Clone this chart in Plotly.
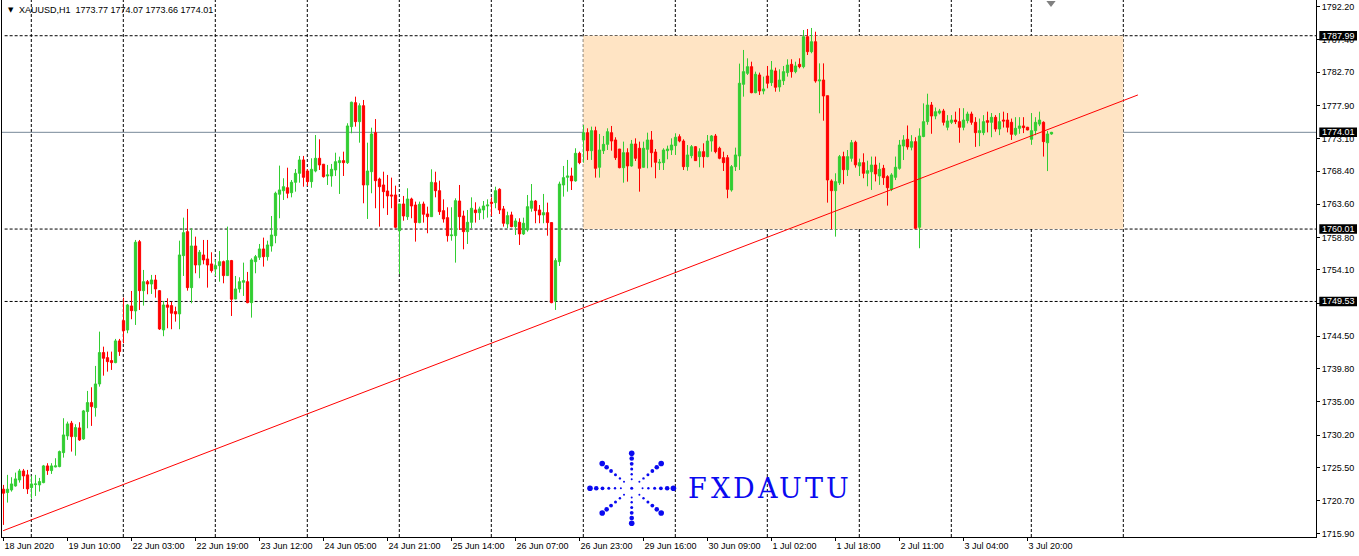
import math
import plotly.graph_objects as go

# ---------------- data ----------------
opens = [1722.36, 1721.87, 1722.25, 1722.83, 1723.70, 1725.00, 1724.43, 1722.59, 1723.03, 1722.98,
         1723.31, 1725.73, 1725.05, 1725.58, 1725.63, 1727.65, 1730.07, 1731.91, 1729.97, 1731.23,
         1729.64, 1733.59, 1734.89, 1734.16, 1737.59, 1742.13, 1741.40, 1740.97, 1740.68, 1743.82,
         1746.75, 1745.40, 1748.88, 1748.16, 1758.18, 1751.09, 1752.39, 1752.06, 1752.64, 1751.09,
         1745.41, 1749.02, 1748.93, 1748.06, 1747.73, 1756.16, 1759.63, 1751.53, 1757.56, 1754.81,
         1756.26, 1755.68, 1754.96, 1754.23, 1754.71, 1755.29, 1753.27, 1755.44, 1749.89, 1751.34,
         1752.31, 1752.39, 1749.36, 1755.29, 1755.93, 1757.13, 1756.01, 1757.56, 1759.05, 1765.05,
         1765.56, 1765.99, 1765.27, 1766.78, 1768.08, 1770.01, 1768.41, 1766.87, 1768.41, 1770.25,
         1769.39, 1767.69, 1767.69, 1768.56, 1769.62, 1769.91, 1769.62, 1774.83, 1778.30, 1775.55,
         1777.86, 1766.39, 1768.31, 1773.96, 1767.25, 1766.39, 1765.52, 1764.94, 1764.94, 1759.78,
         1763.64, 1761.80, 1764.36, 1763.49, 1760.94, 1763.64, 1762.19, 1761.80, 1766.72, 1765.56,
         1762.67, 1761.66, 1759.05, 1759.05, 1764.07, 1761.90, 1759.63, 1760.99, 1762.77, 1762.38,
         1762.77, 1763.35, 1763.88, 1763.83, 1765.76, 1762.92, 1760.75, 1762.05, 1760.36, 1760.99,
         1759.30, 1759.88, 1763.02, 1764.07, 1762.77, 1762.05, 1762.38, 1760.94, 1749.65, 1755.29,
         1766.39, 1767.50, 1767.69, 1766.98, 1770.97, 1772.90, 1773.96, 1771.35, 1774.25, 1768.95,
         1771.35, 1772.27, 1773.96, 1772.90, 1771.59, 1768.89, 1771.06, 1769.14, 1772.32, 1771.70,
         1768.95, 1771.55, 1772.90, 1771.16, 1769.57, 1769.62, 1771.35, 1771.45, 1772.08, 1773.38,
         1772.75, 1769.04, 1770.63, 1771.93, 1770.49, 1771.21, 1770.49, 1772.75, 1773.48, 1771.70,
         1770.34, 1770.34, 1765.66, 1769.04, 1770.59, 1780.96, 1782.55, 1783.51, 1779.75, 1782.31,
         1779.99, 1782.16, 1781.20, 1782.89, 1780.58, 1781.48, 1782.65, 1783.85, 1782.79, 1783.85,
         1783.51, 1787.85, 1785.68, 1787.12, 1781.44, 1781.58, 1779.31, 1766.97, 1765.56, 1766.72,
         1770.49, 1768.60, 1770.25, 1772.57, 1769.14, 1769.62, 1768.08, 1768.30, 1769.28, 1767.69,
         1768.80, 1767.59, 1765.76, 1767.50, 1768.80, 1772.03, 1773.00, 1771.85, 1772.66, 1760.27,
         1773.40, 1775.55, 1777.96, 1776.37, 1776.80, 1777.10, 1774.74, 1775.46, 1775.79, 1775.55,
         1774.74, 1775.70, 1776.66, 1775.46, 1773.96, 1773.96, 1775.70, 1775.46, 1776.18, 1774.49,
         1775.79, 1775.79, 1775.46, 1773.72, 1774.59, 1774.93, 1774.74, 1773.00, 1774.25, 1775.20,
         1775.46, 1772.50, 1773.77]

highs = [1722.98, 1724.43, 1724.09, 1724.76, 1725.29, 1725.29, 1725.15, 1724.28, 1724.43, 1723.99,
         1725.87, 1726.12, 1726.12, 1726.84, 1727.95, 1732.63, 1732.14, 1732.24, 1731.76, 1732.05,
         1733.83, 1736.58, 1737.11, 1740.20, 1745.16, 1742.99, 1742.27, 1742.27, 1744.11, 1744.11,
         1750.08, 1749.17, 1751.05, 1758.43, 1758.43, 1754.09, 1752.64, 1753.37, 1753.37, 1751.19,
         1749.60, 1749.99, 1749.50, 1748.78, 1758.33, 1761.66, 1762.92, 1760.12, 1758.91, 1756.98,
         1758.43, 1758.43, 1756.65, 1755.54, 1756.84, 1755.44, 1760.36, 1755.54, 1753.22, 1753.03,
         1755.15, 1753.80, 1755.78, 1756.26, 1757.85, 1758.77, 1758.33, 1761.90, 1765.42, 1769.19,
         1767.36, 1768.89, 1767.11, 1768.70, 1770.59, 1770.59, 1768.70, 1770.25, 1773.62, 1773.00,
         1769.43, 1769.29, 1769.43, 1771.06, 1770.49, 1771.21, 1775.32, 1778.45, 1779.17, 1778.21,
         1778.69, 1772.51, 1774.68, 1775.93, 1767.45, 1768.31, 1767.84, 1767.45, 1766.29, 1763.64,
         1764.80, 1765.91, 1764.55, 1763.98, 1763.98, 1763.98, 1763.25, 1768.66, 1768.31, 1767.01,
         1764.31, 1763.16, 1763.16, 1764.46, 1766.39, 1762.67, 1762.77, 1764.60, 1763.88, 1763.25,
         1764.07, 1764.31, 1764.60, 1766.14, 1765.91, 1763.35, 1762.52, 1762.52, 1761.57, 1761.57,
         1761.66, 1764.94, 1766.53, 1764.22, 1763.49, 1765.09, 1763.83, 1760.99, 1755.78, 1766.87,
         1769.14, 1770.01, 1768.89, 1771.70, 1771.21, 1775.07, 1774.59, 1774.83, 1774.83, 1773.77,
         1773.48, 1774.59, 1774.93, 1773.29, 1771.59, 1772.66, 1771.70, 1772.90, 1773.14, 1772.66,
         1772.66, 1773.96, 1774.20, 1771.59, 1770.15, 1771.70, 1772.08, 1773.14, 1773.87, 1773.72,
         1773.00, 1772.17, 1772.17, 1772.03, 1771.70, 1772.42, 1773.62, 1773.62, 1773.77, 1771.93,
         1771.21, 1770.73, 1769.28, 1771.79, 1783.95, 1785.93, 1784.72, 1784.23, 1782.79, 1782.65,
         1782.07, 1783.61, 1784.33, 1783.37, 1783.13, 1783.61, 1784.58, 1784.58, 1784.23, 1784.72,
         1788.82, 1788.96, 1789.11, 1788.57, 1783.99, 1783.99, 1779.31, 1767.21, 1768.08, 1770.73,
         1771.20, 1771.45, 1772.90, 1772.80, 1770.20, 1770.97, 1769.90, 1770.50, 1770.50, 1769.60,
         1769.30, 1767.80, 1768.10, 1770.50, 1772.90, 1773.60, 1775.00, 1773.60, 1773.30, 1774.59,
         1778.20, 1779.60, 1778.40, 1777.60, 1777.40, 1777.40, 1776.50, 1776.50, 1777.00, 1777.50,
         1777.50, 1777.00, 1777.00, 1776.20, 1776.00, 1776.50, 1777.00, 1776.80, 1776.50, 1776.80,
         1777.00, 1776.80, 1776.00, 1776.20, 1776.20, 1776.20, 1774.80, 1776.80, 1776.20, 1777.00,
         1775.60, 1774.20, 1774.07]

lows = [1717.19, 1720.42, 1722.01, 1722.73, 1723.31, 1722.40, 1721.67, 1720.99, 1721.38, 1722.01,
        1723.22, 1724.43, 1724.57, 1725.53, 1725.53, 1726.93, 1729.49, 1727.80, 1727.21, 1729.35,
        1729.49, 1731.18, 1731.52, 1732.86, 1737.20, 1738.79, 1739.37, 1739.62, 1740.59, 1741.65,
        1743.48, 1744.93, 1746.96, 1746.13, 1748.30, 1748.93, 1750.57, 1750.62, 1750.08, 1745.41,
        1744.50, 1745.65, 1745.51, 1746.61, 1745.51, 1753.22, 1751.09, 1749.27, 1753.61, 1752.89,
        1754.91, 1751.53, 1753.70, 1753.22, 1752.39, 1752.16, 1753.22, 1747.43, 1749.85, 1750.80,
        1750.33, 1749.27, 1747.19, 1753.61, 1755.54, 1754.57, 1755.44, 1756.74, 1757.95, 1761.57,
        1764.22, 1764.47, 1764.60, 1765.42, 1766.72, 1766.14, 1766.24, 1765.99, 1768.22, 1768.56,
        1767.45, 1766.39, 1766.14, 1767.69, 1765.09, 1767.69, 1769.43, 1773.87, 1774.83, 1772.51,
        1763.74, 1761.47, 1765.19, 1763.02, 1760.36, 1763.02, 1762.05, 1763.02, 1760.12, 1753.51,
        1761.22, 1761.33, 1761.57, 1758.19, 1760.85, 1760.94, 1759.40, 1761.80, 1764.60, 1762.05,
        1760.94, 1758.19, 1758.33, 1755.15, 1759.88, 1757.08, 1757.85, 1760.12, 1760.94, 1761.33,
        1761.43, 1761.66, 1761.90, 1763.02, 1762.19, 1760.36, 1760.12, 1760.27, 1759.15, 1757.71,
        1759.15, 1759.63, 1762.52, 1760.85, 1760.85, 1760.85, 1759.05, 1749.27, 1748.30, 1754.67,
        1764.70, 1765.42, 1765.66, 1766.87, 1769.39, 1769.62, 1770.01, 1770.01, 1767.45, 1767.45,
        1770.87, 1771.45, 1771.35, 1770.01, 1768.80, 1766.72, 1766.87, 1769.04, 1769.86, 1765.42,
        1768.89, 1768.80, 1768.95, 1767.36, 1768.56, 1768.56, 1770.11, 1770.73, 1770.73, 1772.56,
        1768.56, 1768.45, 1770.25, 1769.86, 1768.95, 1768.89, 1770.40, 1771.21, 1770.97, 1770.11,
        1768.41, 1764.47, 1765.42, 1768.41, 1768.56, 1779.17, 1782.31, 1779.66, 1779.66, 1779.41,
        1779.51, 1780.38, 1780.72, 1779.89, 1779.89, 1780.86, 1782.07, 1781.92, 1782.55, 1783.27,
        1783.27, 1785.20, 1785.45, 1781.19, 1776.76, 1775.69, 1763.83, 1759.98, 1758.91, 1766.39,
        1766.50, 1767.69, 1769.76, 1768.90, 1767.69, 1767.36, 1766.20, 1765.67, 1766.90, 1766.40,
        1766.40, 1763.40, 1765.50, 1767.10, 1768.60, 1770.00, 1771.50, 1771.40, 1760.00, 1757.23,
        1773.30, 1775.10, 1773.80, 1775.90, 1776.60, 1775.00, 1774.30, 1775.20, 1775.20, 1772.50,
        1774.30, 1775.30, 1775.10, 1771.90, 1772.00, 1773.60, 1774.00, 1773.30, 1774.10, 1773.60,
        1774.70, 1774.00, 1772.90, 1773.50, 1773.80, 1773.90, 1774.30, 1772.20, 1773.60, 1774.90,
        1770.50, 1768.40, 1773.66]

closes = [1721.78, 1722.36, 1723.12, 1723.85, 1725.00, 1724.28, 1722.40, 1723.12, 1723.12, 1723.46,
          1725.73, 1725.05, 1725.73, 1725.73, 1727.80, 1730.21, 1731.81, 1729.97, 1731.27, 1729.49,
          1733.69, 1734.89, 1734.31, 1737.59, 1742.13, 1741.31, 1740.82, 1740.68, 1743.82, 1742.27,
          1745.30, 1749.02, 1748.20, 1758.10, 1751.09, 1752.39, 1752.06, 1752.64, 1751.34, 1745.55,
          1749.02, 1748.69, 1747.83, 1747.73, 1756.26, 1759.49, 1751.53, 1757.56, 1754.81, 1756.65,
          1755.54, 1754.81, 1753.99, 1754.71, 1755.29, 1753.27, 1755.44, 1749.85, 1751.34, 1752.39,
          1752.54, 1749.36, 1755.54, 1756.01, 1757.13, 1756.01, 1757.71, 1759.15, 1765.19, 1765.67,
          1766.14, 1765.19, 1766.78, 1768.08, 1770.01, 1767.50, 1766.87, 1768.66, 1770.25, 1769.29,
          1767.59, 1767.84, 1768.66, 1769.76, 1769.91, 1769.62, 1774.93, 1778.36, 1775.55, 1777.86,
          1766.39, 1768.41, 1773.77, 1767.01, 1766.14, 1765.42, 1764.80, 1764.80, 1760.27, 1763.64,
          1761.90, 1764.36, 1763.35, 1760.94, 1763.59, 1762.15, 1761.80, 1766.78, 1765.56, 1762.52,
          1761.47, 1759.05, 1759.15, 1764.12, 1761.80, 1759.63, 1760.99, 1763.02, 1762.38, 1762.92,
          1763.35, 1763.49, 1763.74, 1765.56, 1762.77, 1760.85, 1761.95, 1760.36, 1761.18, 1759.30,
          1760.85, 1763.25, 1764.07, 1762.67, 1762.05, 1762.38, 1760.94, 1749.36, 1755.44, 1766.53,
          1767.45, 1767.69, 1766.98, 1770.97, 1769.62, 1773.96, 1771.35, 1774.25, 1768.80, 1771.45,
          1772.27, 1774.10, 1772.75, 1770.34, 1768.89, 1771.06, 1769.14, 1772.32, 1770.25, 1768.80,
          1771.70, 1772.90, 1771.06, 1769.67, 1769.67, 1771.45, 1771.59, 1772.17, 1773.29, 1772.75,
          1769.04, 1770.73, 1771.93, 1769.91, 1771.21, 1770.49, 1772.75, 1773.48, 1771.21, 1770.25,
          1769.62, 1765.76, 1769.04, 1770.73, 1781.11, 1782.79, 1783.51, 1779.75, 1782.41, 1779.99,
          1780.28, 1781.11, 1783.03, 1780.53, 1781.58, 1782.79, 1783.75, 1782.79, 1783.61, 1783.51,
          1787.85, 1785.68, 1787.12, 1781.44, 1781.58, 1779.27, 1767.11, 1765.56, 1766.87, 1770.49,
          1768.60, 1770.49, 1772.51, 1769.30, 1769.62, 1768.08, 1768.46, 1769.28, 1767.98, 1768.66,
          1767.45, 1765.99, 1767.84, 1768.95, 1772.17, 1772.90, 1771.90, 1772.66, 1760.12, 1773.48,
          1775.55, 1777.96, 1776.37, 1776.99, 1777.10, 1775.46, 1775.65, 1775.79, 1775.55, 1774.74,
          1775.79, 1776.66, 1775.46, 1773.96, 1774.25, 1775.55, 1775.46, 1776.18, 1774.49, 1775.55,
          1775.65, 1774.74, 1773.72, 1774.59, 1774.93, 1774.69, 1774.35, 1774.25, 1775.46, 1775.79,
          1772.66, 1773.77, 1774.01]

bars = list(range(len(opens)))

time_labels = ["18 Jun 2020", "19 Jun 10:00", "22 Jun 03:00", "22 Jun 19:00", "23 Jun 12:00",
               "24 Jun 05:00", "24 Jun 21:00", "25 Jun 14:00", "26 Jun 07:00", "26 Jun 23:00",
               "29 Jun 16:00", "30 Jun 09:00", "1 Jul 02:00", "1 Jul 18:00", "2 Jul 11:00",
               "3 Jul 04:00", "3 Jul 20:00"]
label_bars = [0, 16, 32, 48, 64, 80, 96, 112, 128, 144, 160, 176, 192, 208, 224, 240, 256]

price_ticks = [1792.20, 1787.40, 1782.70, 1777.90, 1773.10, 1768.40, 1763.60, 1758.80, 1754.10,
               1749.30, 1744.50, 1739.80, 1735.00, 1730.20, 1725.50, 1720.70, 1715.90]

level_prices = [1787.99, 1760.01, 1749.53]
bid_price = 1774.01
header_text = "XAUUSD,H1\u00a0\u00a01773.77 1774.07 1773.66 1774.01"

grid_bars = [6.95, 29.95, 52.95, 75.95, 98.95, 121.95, 144.95, 167.95, 190.95, 213.95, 236.95,
             256.95, 279.95]
zone_bars = [144.95, 279.95]
zone_prices = [1760.01, 1787.99]
trend_bars = [-0.1, 283.6]
trend_prices = [1716.35, 1779.42]

# ---------------- style ----------------
UP = "#32CD32"
DN = "#FF0000"
LOGO = "#0A0AF0"
FONT = "Liberation Sans"
X_RANGE = [-0.375, 328.125]
Y_RANGE = [1715.44, 1793.16]
PLOT_L, PLOT_R, PLOT_B = 2, 1316, 537


def py_paper(p):
    return (p - Y_RANGE[0]) / (Y_RANGE[1] - Y_RANGE[0])


fig = go.Figure()

fig.add_trace(go.Candlestick(
    x=bars, open=opens, high=highs, low=lows, close=closes,
    increasing=dict(line=dict(color=UP, width=1), fillcolor=UP),
    decreasing=dict(line=dict(color=DN, width=1), fillcolor=DN),
    whiskerwidth=0, hoverinfo="skip", showlegend=False))

fig.add_trace(go.Scatter(x=trend_bars, y=trend_prices, mode="lines",
                         line=dict(color="#FF0000", width=1), hoverinfo="skip", showlegend=False))

# logo starburst (decoration, drawn in pixel space on overlay axes)
cx, cy, ax_, ay_ = 631.7, 488.3, 41.7, 35.0
fr = [1.0, 0.85, 0.7, 0.55, 0.4, 0.26]
sz = [5.6, 4.6, 3.8, 3.0, 2.4, 2.0]
dx, dy, ds = [cx], [cy], [3.0]
for k in range(8):
    a = k * math.pi / 4
    for f, s in zip(fr, sz):
        dx.append(cx + f * ax_ * math.cos(a))
        dy.append(cy - f * ay_ * math.sin(a))
        ds.append(s)
fig.add_trace(go.Scatter(x=dx, y=dy, xaxis="x2", yaxis="y2", mode="markers",
                         marker=dict(color=LOGO, size=ds, opacity=1, line=dict(width=0)),
                         hoverinfo="skip", showlegend=False))
# chart shift marker
fig.add_trace(go.Scatter(x=[1051], y=[3], xaxis="x2", yaxis="y2", mode="markers",
                         marker=dict(symbol="triangle-down", color="#808080", size=8, opacity=1),
                         hoverinfo="skip", showlegend=False))

shapes = []
shapes.append(dict(type="rect", xref="x", yref="y", x0=zone_bars[0], x1=zone_bars[1],
                   y0=zone_prices[0], y1=zone_prices[1], fillcolor="#FFE4C4",
                   line=dict(width=0), layer="below"))
for g in grid_bars:
    shapes.append(dict(type="line", xref="x", yref="paper", x0=g, x1=g, y0=0, y1=1,
                       line=dict(color="black", width=1, dash="3px,2px"), layer="below"))
for p in level_prices:
    shapes.append(dict(type="line", xref="paper", yref="y", x0=0.002, x1=1, y0=p, y1=p,
                       line=dict(color="black", width=1, dash="3px,2px"), layer="below"))
shapes.append(dict(type="line", xref="paper", yref="y", x0=0, x1=1, y0=bid_price, y1=bid_price,
                   line=dict(color="#778899", width=1), layer="below"))

annotations = []
for p in level_prices + [bid_price]:
    shapes.append(dict(type="rect", xref="paper", yref="paper",
                       x0=1 + 3.3 / (PLOT_R - PLOT_L), x1=1 + 41 / (PLOT_R - PLOT_L),
                       y0=py_paper(p) - 4.8 / PLOT_B, y1=py_paper(p) + 4.8 / PLOT_B,
                       fillcolor="black", line=dict(width=0), layer="above"))
    annotations.append(dict(xref="paper", yref="y", x=1, y=p, xanchor="left", yanchor="middle",
                            xshift=4, yshift=0, text=f"{p:.2f}", showarrow=False,
                            font=dict(family=FONT, size=9, color="white")))

annotations.append(dict(xref="x2", yref="y2", x=6, y=10, xanchor="left", yanchor="middle",
                        text="\u25bc", showarrow=False, font=dict(family="DejaVu Sans", size=7, color="black")))
annotations.append(dict(xref="x2", yref="y2", x=17, y=10, xanchor="left", yanchor="middle",
                        text=header_text, showarrow=False, font=dict(family=FONT, size=9, color="black")))

logo = "FXDAUTU"
for i, ch in enumerate(logo):
    annotations.append(dict(xref="x2", yref="y2", x=697.7 + i * 23.3, y=488.5, xanchor="center",
                            yanchor="middle", text=ch, showarrow=False,
                            font=dict(family="DejaVu Serif", size=27, color=LOGO)))

fig.update_layout(
    width=1359, height=556,
    margin=dict(l=PLOT_L, r=1359 - PLOT_R, t=0, b=556 - PLOT_B),
    paper_bgcolor="white", plot_bgcolor="white",
    showlegend=False, boxgap=0.3, boxgroupgap=0.2,
    xaxis=dict(range=X_RANGE, showgrid=False, zeroline=False, showline=True, linecolor="black",
               linewidth=1, ticks="outside", ticklen=3, tickcolor="black",
               tickvals=label_bars, ticktext=time_labels, ticklabelposition="outside right",
               tickfont=dict(family=FONT, size=9, color="black"),
               rangeslider=dict(visible=False), fixedrange=True),
    yaxis=dict(range=Y_RANGE, side="right", showgrid=False, zeroline=False, showline=True,
               mirror=True, linecolor="black", linewidth=1, ticks="outside", ticklen=3,
               tickcolor="black", tickvals=price_ticks, ticktext=[f"{v:.2f}" for v in price_ticks],
               tickfont=dict(family=FONT, size=9, color="black"), fixedrange=True),
    xaxis2=dict(range=[PLOT_L, PLOT_R], overlaying="x", visible=False, anchor="y2"),
    yaxis2=dict(range=[PLOT_B, 0], overlaying="y", visible=False, anchor="x2"),
    shapes=shapes, annotations=annotations,
)

fig.write_html("out.html", config={"displayModeBar": False},
               post_script="document.body.style.margin='0px';document.body.style.overflow='hidden';")
